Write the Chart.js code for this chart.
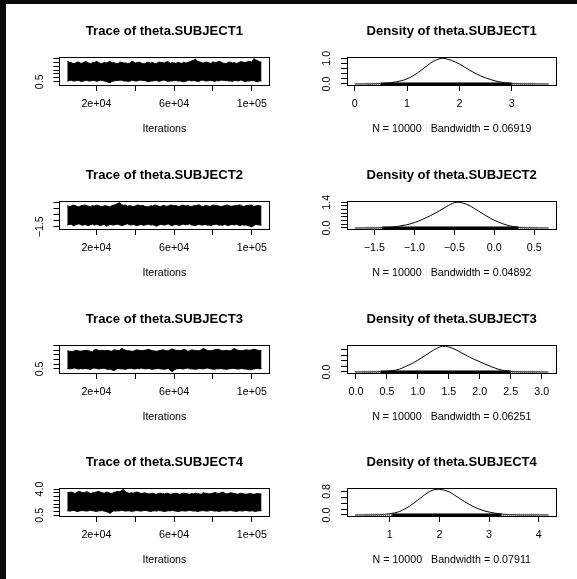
<!DOCTYPE html>
<html><head><meta charset="utf-8">
<script src="https://cdn.jsdelivr.net/npm/chart.js@4.4.1/dist/chart.umd.min.js"></script>
<style>
html,body{margin:0;padding:0;background:#0b0b0b;width:577px;height:579px;overflow:hidden;position:relative;}
#page{position:absolute;left:6px;top:4px;width:571px;height:575px;background:#fff;}
canvas{position:absolute;}
</style></head><body><div id="page"></div>
<script>
// ---------------- data ----------------
const subjects = ['theta.SUBJECT1','theta.SUBJECT2','theta.SUBJECT3','theta.SUBJECT4'];
const sampleN = 10000;
const bandwidths = ['0.06919','0.04892','0.06251','0.07911'];

// iteration bins (band edges of each trace, read per bin)
const traceIter = [5001,6000,7000,8000,9000,10000,11000,12000,13000,14000,
  15000,16000,17000,18000,19000,20000,21000,22000,23000,24000,
  25000,26000,27000,28000,29000,30000,31000,32000,33000,34000,
  35000,36000,37000,38000,39000,40000,41000,42000,43000,44000,
  45000,46000,47000,48000,49000,50000,51000,52000,53000,54000,
  55000,56000,57000,58000,59000,60000,61000,62000,63000,64000,
  65000,66000,67000,68000,69000,70000,71000,72000,73000,74000,
  75000,76000,77000,78000,79000,80000,81000,82000,83000,84000,
  85000,86000,87000,88000,89000,90000,91000,92000,93000,94000,
  95000,96000,97000,98000,99000,100000,101000,102000,103000,104000,105000];

const trace1Upper = [3.10,3.00,2.95,2.80,2.85,3.00,3.00,2.85,2.90,3.05,
  3.05,2.90,2.80,2.95,2.95,3.10,3.00,2.85,2.85,2.95,
  2.90,3.00,3.10,2.90,2.95,2.85,2.80,3.00,3.00,2.90,
  2.90,2.85,2.85,3.10,3.05,2.90,2.95,3.00,2.90,2.80,
  2.80,2.95,3.00,2.90,2.95,2.85,2.85,3.00,3.00,2.95,
  2.90,3.05,3.05,2.85,2.95,2.90,2.85,3.00,2.90,2.85,
  3.00,2.90,2.95,3.05,3.15,3.25,3.40,3.10,3.05,2.95,
  2.90,3.00,3.00,2.90,2.85,3.05,2.95,3.00,3.10,3.05,
  2.90,2.85,2.85,3.00,3.00,2.90,2.95,2.85,2.90,3.05,
  3.05,2.95,2.95,3.10,3.10,3.00,3.45,3.30,3.20,3.05,3.00];
const trace1Lower = [0.55,0.65,0.70,0.60,0.60,0.70,0.65,0.55,0.55,0.65,
  0.70,0.60,0.60,0.65,0.65,0.55,0.60,0.70,0.65,0.60,
  0.55,0.45,0.35,0.55,0.60,0.65,0.65,0.70,0.70,0.60,
  0.60,0.55,0.55,0.65,0.65,0.60,0.60,0.70,0.70,0.65,
  0.65,0.55,0.50,0.60,0.60,0.65,0.65,0.55,0.60,0.70,
  0.70,0.60,0.55,0.60,0.60,0.65,0.65,0.60,0.60,0.55,
  0.50,0.55,0.65,0.70,0.60,0.65,0.60,0.55,0.55,0.70,
  0.70,0.60,0.60,0.65,0.65,0.60,0.55,0.65,0.60,0.70,
  0.70,0.65,0.65,0.60,0.60,0.55,0.65,0.65,0.60,0.70,
  0.70,0.55,0.55,0.60,0.60,0.65,0.65,0.55,0.50,0.60,0.60];
const trace2Upper = [0.25,0.18,0.22,0.30,0.27,0.20,0.15,0.24,0.28,0.31,
  0.26,0.21,0.19,0.25,0.23,0.30,0.27,0.20,0.17,0.25,
  0.24,0.20,0.15,0.26,0.30,0.35,0.45,0.50,0.33,0.28,
  0.30,0.21,0.25,0.23,0.19,0.22,0.31,0.28,0.24,0.26,
  0.20,0.15,0.17,0.25,0.22,0.30,0.28,0.21,0.18,0.25,
  0.27,0.20,0.22,0.31,0.29,0.24,0.26,0.19,0.21,0.30,
  0.28,0.23,0.26,0.20,0.18,0.25,0.24,0.30,0.32,0.21,
  0.19,0.26,0.24,0.20,0.22,0.31,0.28,0.25,0.23,0.19,
  0.21,0.26,0.30,0.28,0.20,0.22,0.25,0.24,0.30,0.31,
  0.22,0.19,0.25,0.27,0.30,0.29,0.20,0.23,0.26,0.24,0.21];
const trace2Lower = [-1.35,-1.30,-1.28,-1.40,-1.36,-1.30,-1.25,-1.33,-1.38,-1.30,
  -1.36,-1.40,-1.32,-1.28,-1.36,-1.30,-1.34,-1.40,-1.35,-1.30,
  -1.45,-1.38,-1.30,-1.33,-1.36,-1.30,-1.28,-1.34,-1.40,-1.36,
  -1.30,-1.25,-1.33,-1.35,-1.30,-1.36,-1.40,-1.34,-1.30,-1.37,
  -1.35,-1.30,-1.28,-1.36,-1.33,-1.38,-1.45,-1.36,-1.30,-1.33,
  -1.36,-1.30,-1.26,-1.35,-1.40,-1.33,-1.30,-1.36,-1.38,-1.30,
  -1.28,-1.34,-1.30,-1.25,-1.35,-1.38,-1.40,-1.33,-1.30,-1.36,
  -1.34,-1.30,-1.36,-1.35,-1.40,-1.33,-1.30,-1.28,-1.36,-1.35,
  -1.38,-1.30,-1.36,-1.40,-1.33,-1.30,-1.35,-1.28,-1.36,-1.40,
  -1.33,-1.36,-1.35,-1.40,-1.45,-1.50,-1.40,-1.30,-1.33,-1.36,-1.35];
const trace3Upper = [2.45,2.40,2.38,2.35,2.48,2.50,2.42,2.40,2.45,2.48,
  2.50,2.45,2.38,2.35,2.55,2.60,2.48,2.45,2.50,2.45,
  2.48,2.50,2.42,2.40,2.55,2.52,2.45,2.50,2.70,2.60,
  2.50,2.45,2.45,2.40,2.40,2.50,2.55,2.50,2.45,2.48,
  2.50,2.55,2.60,2.50,2.45,2.42,2.40,2.45,2.50,2.55,
  2.52,2.45,2.45,2.55,2.65,2.55,2.50,2.48,2.45,2.50,
  2.60,2.55,2.40,2.45,2.55,2.50,2.50,2.45,2.45,2.55,
  2.70,2.60,2.50,2.45,2.45,2.50,2.55,2.60,2.60,2.50,
  2.45,2.48,2.50,2.45,2.45,2.55,2.70,2.55,2.50,2.48,
  2.45,2.50,2.55,2.52,2.50,2.55,2.60,2.58,2.50,2.48,2.45];
const trace3Lower = [0.55,0.50,0.52,0.58,0.60,0.52,0.48,0.55,0.50,0.55,
  0.52,0.48,0.45,0.55,0.60,0.55,0.50,0.52,0.55,0.58,
  0.50,0.45,0.48,0.40,0.30,0.45,0.55,0.52,0.50,0.48,
  0.45,0.52,0.55,0.58,0.50,0.50,0.55,0.52,0.60,0.55,
  0.50,0.52,0.55,0.48,0.45,0.50,0.52,0.55,0.50,0.48,
  0.45,0.50,0.55,0.35,0.20,0.38,0.50,0.52,0.55,0.50,
  0.50,0.55,0.60,0.52,0.50,0.48,0.45,0.50,0.55,0.52,
  0.50,0.55,0.60,0.55,0.50,0.48,0.45,0.52,0.50,0.55,
  0.50,0.48,0.45,0.50,0.52,0.55,0.55,0.50,0.48,0.52,
  0.55,0.50,0.48,0.45,0.40,0.45,0.50,0.52,0.55,0.50,0.55];
const trace4Upper = [3.50,3.55,3.60,3.50,3.40,3.55,3.70,3.60,3.50,3.55,
  3.65,3.55,3.40,3.50,3.55,3.60,3.70,3.60,3.50,3.45,
  3.60,3.55,3.45,3.40,3.55,3.60,3.70,3.65,3.80,3.95,
  3.60,3.50,3.45,3.50,3.45,3.55,3.60,3.50,3.40,3.45,
  3.50,3.40,3.35,3.40,3.45,3.35,3.30,3.40,3.45,3.40,
  3.35,3.45,3.40,3.30,3.35,3.40,3.45,3.35,3.30,3.40,
  3.45,3.40,3.35,3.30,3.40,3.35,3.45,3.40,3.35,3.30,
  3.50,3.45,3.40,3.35,3.40,3.45,3.55,3.45,3.40,3.50,
  3.60,3.45,3.35,3.40,3.50,3.45,3.40,3.35,3.30,3.45,
  3.40,3.35,3.30,3.35,3.40,3.35,3.30,3.35,3.40,3.35,3.35];
const trace4Lower = [1.10,1.05,1.08,1.15,1.10,1.00,1.05,1.10,1.12,1.08,
  1.05,1.10,1.15,1.10,1.05,1.00,1.08,1.10,1.12,1.05,
  1.00,0.90,0.75,0.95,1.10,1.05,1.10,1.08,1.15,1.10,
  1.05,1.08,1.10,1.00,1.05,1.10,1.12,1.08,1.05,1.10,
  1.15,1.10,1.05,1.00,1.08,1.10,1.05,1.12,1.10,1.05,
  1.00,1.05,1.10,1.08,1.15,1.10,1.05,1.00,1.05,1.10,
  1.08,1.05,1.10,1.15,1.10,1.05,1.08,1.00,1.05,1.10,
  1.12,1.08,1.05,1.10,1.15,1.10,1.05,1.08,1.00,1.05,
  1.10,1.08,1.05,1.10,1.12,1.08,1.05,1.00,1.08,1.10,
  1.05,1.10,1.15,1.08,1.05,1.10,1.05,1.00,1.08,1.10,1.10];

const dens1X = [0.00,0.30,0.50,0.70,0.90,1.00,1.10,1.20,1.30,1.40,1.50,1.60,1.67,1.75,1.85,2.00,2.10,2.20,2.30,2.40,2.50,2.60,2.70,2.80,2.90,3.00,3.20,3.50,3.71];
const dens1Y = [0.000,0.003,0.015,0.050,0.130,0.200,0.300,0.430,0.580,0.740,0.880,0.970,1.000,0.980,0.920,0.780,0.660,0.530,0.420,0.320,0.240,0.170,0.110,0.070,0.040,0.020,0.005,0.001,0.000];
const dens2X = [-1.744,-1.5,-1.4,-1.3,-1.2,-1.1,-1.0,-0.9,-0.8,-0.7,-0.6,-0.5,-0.45,-0.4,-0.3,-0.2,-0.1,0.0,0.1,0.2,0.3,0.4,0.5,0.68];
const dens2Y = [0,0.005,0.015,0.04,0.09,0.17,0.29,0.46,0.67,0.90,1.16,1.38,1.40,1.37,1.20,0.93,0.66,0.42,0.24,0.11,0.04,0.012,0.003,0];
const dens3X = [-0.02,0.2,0.4,0.5,0.6,0.7,0.8,0.9,1.0,1.1,1.2,1.3,1.4,1.5,1.6,1.7,1.8,1.9,2.0,2.1,2.2,2.3,2.4,2.5,2.7,3.11];
const dens3Y = [0,0.002,0.01,0.025,0.05,0.10,0.20,0.30,0.43,0.57,0.72,0.85,0.93,0.91,0.82,0.70,0.58,0.47,0.37,0.27,0.18,0.10,0.05,0.02,0.005,0];
const dens4X = [0.3,0.6,0.8,0.9,1.0,1.1,1.2,1.3,1.4,1.5,1.6,1.7,1.8,1.9,2.0,2.1,2.2,2.3,2.4,2.5,2.6,2.7,2.8,2.9,3.0,3.2,3.4,3.7,4.2];
const dens4Y = [0,0.003,0.01,0.02,0.04,0.07,0.12,0.20,0.30,0.42,0.55,0.68,0.79,0.86,0.87,0.84,0.78,0.68,0.57,0.46,0.36,0.27,0.20,0.14,0.10,0.04,0.012,0.002,0];

// rug extents: [sparse start, dense start, dense end, sparse end]
const rug1 = [0.22, 0.50, 3.00, 3.45];
const rug2 = [-1.60, -1.40, 0.30, 0.55];
const rug3 = [0.10, 0.40, 2.50, 2.95];
const rug4 = [0.50, 1.05, 3.25, 4.00];

// axis ranges
const traceXRange = [1001, 109000];
const trace1YRange = [0.08, 3.63];
const trace2YRange = [-1.682, 0.618];
const trace3YRange = [0.057, 3.04];
const trace4YRange = [0.396, 4.102];
const dens1XRange = [-0.147, 3.856];
const dens2XRange = [-1.841, 0.7775];
const dens3XRange = [-0.145, 3.239];
const dens4XRange = [0.140, 4.358];
const dens1YRange = [-0.04, 1.04];
const dens2YRange = [-0.056, 1.456];
const dens3YRange = [-0.0372, 0.9672];
const dens4YRange = [-0.0348, 0.9048];

// ticks and tick labels
const traceXTicks = [20000, 40000, 60000, 80000, 100000];
const traceXLabels = ['2e+04', '', '6e+04', '', '1e+05'];
const trace1YTicks = [0.5,1.0,1.5,2.0,2.5,3.0,3.5];
const trace1YLabels = ['0.5','','','','','',''];
const trace2YTicks = [-1.5,-1.0,-0.5,0.0,0.5];
const trace2YLabels = ['\u22121.5','','','',''];
const trace3YTicks = [0.5,1.0,1.5,2.0,2.5,3.0];
const trace3YLabels = ['0.5','','','','',''];
const trace4YTicks = [0.5,1.0,1.5,2.0,2.5,3.0,3.5,4.0];
const trace4YLabels = ['0.5','','','','','','','4.0'];
const dens1XTicks = [0,1,2,3];
const dens1XLabels = ['0','1','2','3'];
const dens2XTicks = [-1.5,-1.0,-0.5,0.0,0.5];
const dens2XLabels = ['\u22121.5','\u22121.0','\u22120.5','0.0','0.5'];
const dens3XTicks = [0,0.5,1.0,1.5,2.0,2.5,3.0];
const dens3XLabels = ['0.0','0.5','1.0','1.5','2.0','2.5','3.0'];
const dens4XTicks = [1,2,3,4];
const dens4XLabels = ['1','2','3','4'];
const dens1YTicks = [0,0.2,0.4,0.6,0.8,1.0];
const dens1YLabels = ['0.0','','','','','1.0'];
const dens2YTicks = [0,0.2,0.4,0.6,0.8,1.0,1.2,1.4];
const dens2YLabels = ['0.0','','','','','','','1.4'];
const dens3YTicks = [0,0.2,0.4,0.6,0.8];
const dens3YLabels = ['0.0','','','',''];
const dens4YTicks = [0,0.2,0.4,0.6,0.8];
const dens4YLabels = ['0.0','','','','0.8'];

// ---------------- layout ----------------
const FONT = 'Liberation Sans, Arial, Helvetica, sans-serif';
const TICK_PX = 10.7;
const TITLE_PX = 13.1;
const colLeft = [6, 292];
const colYAxisW = [53.5, 55];
const colRightPad = [21.7, 20.5];
const rowTop = [4, 148, 292, 435];
const CANVAS_W = 285, CANVAS_H = 144;
const X_AXIS_H = 63;
const Y_LABEL_OFFSET = 19.5; // distance from box to label centre

Chart.defaults.font.family = FONT;
Chart.defaults.color = '#000';

const measureCtx = document.createElement('canvas').getContext('2d');
function widest(labels) {
  measureCtx.font = TICK_PX + 'px ' + FONT;
  return Math.max(0, ...labels.map(l => measureCtx.measureText(l).width));
}
function pts(xs, ys) { return xs.map((x, i) => ({x: x, y: ys[i]})); }
const align = v => Math.round(v - 0.5) + 0.5;

function gridOpts() {
  return {display: true, drawOnChartArea: false, drawTicks: true, tickLength: 6,
          color: '#000', lineWidth: 1};
}
function xScale(range, ticks, labels, title) {
  return {
    type: 'linear', position: 'bottom', min: range[0], max: range[1],
    afterBuildTicks: s => { s.ticks = ticks.map(v => ({value: v})); },
    afterFit: s => { s.height = X_AXIS_H; },
    ticks: {autoSkip: false, minRotation: 0, maxRotation: 0, padding: 7,
            font: {size: TICK_PX}, color: '#000', callback: (v, i) => labels[i]},
    grid: gridOpts(), border: {display: false},
    title: {display: true, text: title, font: {size: TICK_PX}, color: '#000',
            padding: {top: 0, bottom: 12.6}}
  };
}
function yScale(range, ticks, labels, yw) {
  const pad = Y_LABEL_OFFSET - 6 - widest(labels) / 2;
  return {
    type: 'linear', position: 'left', min: range[0], max: range[1],
    afterBuildTicks: s => { s.ticks = ticks.map(v => ({value: v})); },
    afterFit: s => { s.width = yw; },
    ticks: {autoSkip: false, minRotation: 90, maxRotation: 90, crossAlign: 'center', padding: pad,
            font: {size: TICK_PX}, color: '#000', callback: (v, i) => labels[i]},
    grid: gridOpts(), border: {display: false}
  };
}

const boxPlugin = {
  id: 'rbox',
  afterDraw(chart) {
    const {left, top, right, bottom} = chart.chartArea;
    const ctx = chart.ctx;
    ctx.save();
    ctx.strokeStyle = '#000';
    ctx.lineWidth = 1;
    const l = align(left), t = align(top), r = align(right), b = align(bottom);
    ctx.strokeRect(l, t, r - l, b - t);
    ctx.restore();
  }
};
function rugPlugin(rug) {
  return {
    id: 'rug',
    afterDatasetsDraw(chart) {
      const xs = chart.scales.x;
      const b = chart.chartArea.bottom;
      const ctx = chart.ctx;
      ctx.save();
      ctx.lineCap = 'butt';
      ctx.strokeStyle = '#666';
      ctx.lineWidth = 2.5;
      ctx.setLineDash([1, 1]);
      ctx.beginPath();
      ctx.moveTo(xs.getPixelForValue(rug[0]), b - 1);
      ctx.lineTo(xs.getPixelForValue(rug[3]), b - 1);
      ctx.stroke();
      ctx.setLineDash([]);
      ctx.strokeStyle = '#000';
      ctx.lineWidth = 3;
      ctx.beginPath();
      ctx.moveTo(xs.getPixelForValue(rug[1]), b - 1);
      ctx.lineTo(xs.getPixelForValue(rug[2]), b - 1);
      ctx.stroke();
      ctx.restore();
    }
  };
}

function makeCanvas(col, row) {
  const c = document.createElement('canvas');
  c.width = CANVAS_W; c.height = CANVAS_H;
  c.style.left = colLeft[col] + 'px';
  c.style.top = rowTop[row] + 'px';
  c.style.width = CANVAS_W + 'px';
  c.style.height = CANVAS_H + 'px';
  document.body.appendChild(c);
  return c;
}
function baseOptions(col, title) {
  return {
    responsive: false, animation: false, devicePixelRatio: 1,
    layout: {padding: {left: 0, right: colRightPad[col], top: 0, bottom: 0}},
    plugins: {
      legend: {display: false}, tooltip: {enabled: false},
      title: {display: true, text: title, color: '#000', fullSize: false, align: 'center',
              font: {size: TITLE_PX, weight: 'bold', family: FONT, lineHeight: 1.2},
              padding: {top: 20, bottom: 53.3 - 20 - TITLE_PX * 1.2}}
    },
    elements: {point: {radius: 0}}
  };
}

function traceChart(row, upper, lower, yRange, yTicks, yLabels) {
  const opts = baseOptions(0, 'Trace of ' + subjects[row]);
  opts.scales = {
    x: xScale(traceXRange, traceXTicks, traceXLabels, 'Iterations'),
    y: yScale(yRange, yTicks, yLabels, colYAxisW[0])
  };
  new Chart(makeCanvas(0, row), {
    type: 'line',
    data: {datasets: [
      {data: pts(traceIter, lower), borderColor: '#000', borderWidth: 1, pointRadius: 0, tension: 0, fill: false},
      {data: pts(traceIter, upper), borderColor: '#000', borderWidth: 1, pointRadius: 0, tension: 0,
       fill: '-1', backgroundColor: '#000'}
    ]},
    options: opts,
    plugins: [boxPlugin]
  });
}
function densChart(row, xs, ys, xRange, xTicks, xLabels, yRange, yTicks, yLabels, rug) {
  const opts = baseOptions(1, 'Density of ' + subjects[row]);
  opts.scales = {
    x: xScale(xRange, xTicks, xLabels, 'N = ' + sampleN + '   Bandwidth = ' + bandwidths[row]),
    y: yScale(yRange, yTicks, yLabels, colYAxisW[1])
  };
  new Chart(makeCanvas(1, row), {
    type: 'line',
    data: {datasets: [
      {data: pts(xs, ys), borderColor: '#000', borderWidth: 1, pointRadius: 0,
       cubicInterpolationMode: 'monotone', fill: false}
    ]},
    options: opts,
    plugins: [rugPlugin(rug), boxPlugin]
  });
}

traceChart(0, trace1Upper, trace1Lower, trace1YRange, trace1YTicks, trace1YLabels);
traceChart(1, trace2Upper, trace2Lower, trace2YRange, trace2YTicks, trace2YLabels);
traceChart(2, trace3Upper, trace3Lower, trace3YRange, trace3YTicks, trace3YLabels);
traceChart(3, trace4Upper, trace4Lower, trace4YRange, trace4YTicks, trace4YLabels);
densChart(0, dens1X, dens1Y, dens1XRange, dens1XTicks, dens1XLabels, dens1YRange, dens1YTicks, dens1YLabels, rug1);
densChart(1, dens2X, dens2Y, dens2XRange, dens2XTicks, dens2XLabels, dens2YRange, dens2YTicks, dens2YLabels, rug2);
densChart(2, dens3X, dens3Y, dens3XRange, dens3XTicks, dens3XLabels, dens3YRange, dens3YTicks, dens3YLabels, rug3);
densChart(3, dens4X, dens4Y, dens4XRange, dens4XTicks, dens4XLabels, dens4YRange, dens4YTicks, dens4YLabels, rug4);
</script>
</body></html>
